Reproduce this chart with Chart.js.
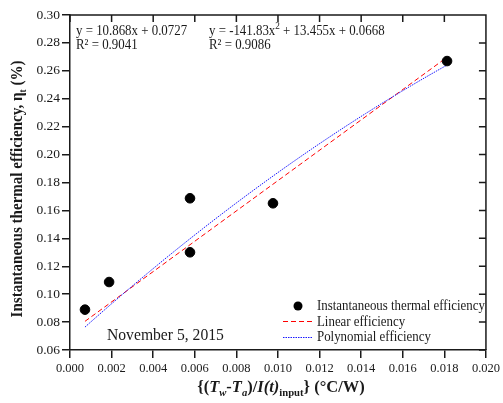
<!DOCTYPE html>
<html>
<head>
<meta charset="utf-8">
<title>Instantaneous thermal efficiency</title>
<script src="https://cdn.jsdelivr.net/npm/chart.js@4/dist/chart.umd.min.js"></script>
<style>
    html, body { margin: 0; padding: 0; background: #fff; }
    #chart { display: block; }
</style>
</head>
<body>
<canvas id="chart" width="503" height="403"></canvas>
<script>
// Measured points: (Tw - Ta)/I(t) vs efficiency
const xValues = [0.00072, 0.00188, 0.00577, 0.00577, 0.00976, 0.01813];
const yValues = [0.0889, 0.1087, 0.1300, 0.1687, 0.1651, 0.2670];

// Trendline coefficients (highest power first)
const linearCoef = [10.868, 0.0727];
const polyCoef = [-141.83, 13.455, 0.0668];
const linearR2 = "0.9041";
const polyR2 = "0.9086";

const xRange = [0, 0.02, 0.002];
const yRange = [0.06, 0.30, 0.02];

const dateLabel = "November 5, 2015";
const seriesNames = ["Instantaneous thermal efficiency", "Linear efficiency", "Polynomial efficiency"];

const SERIF = "'Liberation Serif', 'Times New Roman', serif";
const INK = "#1a1a1a";

function evalPoly(coef, x) {
    return coef.reduce((acc, c) => acc * x + c, 0);
}

const xFirst = Math.min(...xValues);
const xLast = Math.max(...xValues);

const points = xValues.map((x, i) => ({ x: x, y: yValues[i] }));
const linearLine = [xFirst, xLast].map(x => ({ x: x, y: evalPoly(linearCoef, x) }));
const polyLine = [];
for (let i = 0; i <= 40; i++) {
    const x = xFirst + (xLast - xFirst) * i / 40;
    polyLine.push({ x: x, y: evalPoly(polyCoef, x) });
}

// draw a run of text pieces with different fonts / baseline shifts
function drawRich(ctx, parts, x, y, align) {
    let total = 0;
    parts.forEach(p => { ctx.font = p.font; total += ctx.measureText(p.t).width; });
    let cx = align === "center" ? x - total / 2 : x;
    ctx.textAlign = "left";
    parts.forEach(p => {
        ctx.font = p.font;
        ctx.fillText(p.t, cx, y + (p.dy || 0));
        cx += ctx.measureText(p.t).width;
    });
}

// text squeezed horizontally a bit, like the original typesetting
function drawSqueezed(ctx, parts, x, y, align, sx) {
    ctx.save();
    ctx.translate(x, y);
    ctx.scale(sx, 1);
    drawRich(ctx, parts, 0, 0, align);
    ctx.restore();
}

const decorations = {
    id: "decorations",
    afterDraw(chart) {
        const { ctx, chartArea: a, scales: { x, y } } = chart;
        ctx.save();
        ctx.strokeStyle = INK;
        ctx.fillStyle = INK;
        ctx.lineWidth = 1.5;

        // top and right frame with inward ticks
        ctx.beginPath();
        ctx.moveTo(a.left, a.top);
        ctx.lineTo(a.right, a.top);
        ctx.lineTo(a.right, a.bottom);
        x.ticks.forEach(t => {
            const px = x.getPixelForValue(t.value);
            ctx.moveTo(px, a.top);
            ctx.lineTo(px, a.top + 7);
        });
        y.ticks.forEach(t => {
            const py = y.getPixelForValue(t.value);
            ctx.moveTo(a.right, py);
            ctx.lineTo(a.right - 7, py);
        });
        ctx.stroke();

        ctx.textBaseline = "alphabetic";

        // regression equations
        const f14 = "14px " + SERIF;
        const f10 = "10px " + SERIF;
        drawSqueezed(ctx, [{ t: "y = " + linearCoef[0] + "x + " + linearCoef[1], font: f14 }], a.left + 6, a.top + 20, "left", 0.92);
        drawSqueezed(ctx, [{ t: "R² = " + linearR2, font: f14 }], a.left + 6, a.top + 34, "left", 0.92);
        drawSqueezed(ctx, [
            { t: "y = " + polyCoef[0] + "x", font: f14 },
            { t: "2", font: f10, dy: -6 },
            { t: " + " + polyCoef[1] + "x + " + polyCoef[2], font: f14 }
        ], 209, a.top + 20, "left", 0.92);
        drawSqueezed(ctx, [{ t: "R² = " + polyR2, font: f14 }], 209, a.top + 34, "left", 0.92);

        // date label
        drawSqueezed(ctx, [{ t: dateLabel, font: "17px " + SERIF }], 107, 340, "left", 0.92);

        // legend
        const lx = 298;
        ctx.beginPath();
        ctx.arc(lx, 306, 4.5, 0, Math.PI * 2);
        ctx.fillStyle = "#000";
        ctx.fill();
        ctx.lineWidth = 1;
        ctx.strokeStyle = "#ff0000";
        ctx.setLineDash([5, 3]);
        ctx.beginPath();
        ctx.moveTo(283, 321.5);
        ctx.lineTo(313, 321.5);
        ctx.stroke();
        ctx.strokeStyle = "#1a1aff";
        ctx.setLineDash([1.5, 1]);
        ctx.beginPath();
        ctx.moveTo(283, 337.5);
        ctx.lineTo(313, 337.5);
        ctx.stroke();
        ctx.setLineDash([]);
        ctx.fillStyle = INK;
        const fl = "14px " + SERIF;
        drawSqueezed(ctx, [{ t: seriesNames[0], font: fl }], 317, 310, "left", 0.92);
        drawSqueezed(ctx, [{ t: seriesNames[1], font: fl }], 317, 326, "left", 0.92);
        drawSqueezed(ctx, [{ t: seriesNames[2], font: fl }], 317, 341, "left", 0.92);

        // x axis title
        const b = "bold 17px " + SERIF;
        const bi = "italic bold 17px " + SERIF;
        const bs = "bold 11px " + SERIF;
        const bis = "italic bold 11px " + SERIF;
        drawSqueezed(ctx, [
            { t: "{(", font: b },
            { t: "T", font: bi },
            { t: "w", font: bis, dy: 4 },
            { t: "-", font: b },
            { t: "T", font: bi },
            { t: "a", font: bis, dy: 4 },
            { t: ")/", font: b },
            { t: "I(t)", font: bi },
            { t: "input", font: bs, dy: 4 },
            { t: "} (°C/W)", font: b }
        ], (a.left + a.right) / 2 + 3, 392, "center", 0.97);

        // y axis title
        const yb = "bold 16px " + SERIF;
        const ybs = "bold 10px " + SERIF;
        ctx.save();
        ctx.translate(22, 189);
        ctx.rotate(-Math.PI / 2);
        drawSqueezed(ctx, [
            { t: "Instantaneous thermal efficiency, η", font: yb },
            { t: "t", font: ybs, dy: 4 },
            { t: " (%)", font: yb }
        ], 0, 0, "center", 0.94);
        ctx.restore();

        ctx.restore();
    }
};

const axisCommon = {
    type: "linear",
    grid: { drawOnChartArea: false, drawTicks: true, tickLength: 8, color: INK, lineWidth: 1.5 },
    border: { color: INK, width: 1.5 }
};

new Chart(document.getElementById("chart").getContext("2d"), {
    type: "scatter",
    data: {
        datasets: [
            {
                label: seriesNames[0],
                data: points,
                backgroundColor: "#000",
                borderColor: "#000",
                pointRadius: 4.8,
                order: 0
            },
            {
                label: seriesNames[1],
                type: "line",
                data: linearLine,
                borderColor: "#ff0000",
                borderWidth: 1,
                borderDash: [5, 3],
                pointRadius: 0,
                fill: false,
                order: 2
            },
            {
                label: seriesNames[2],
                type: "line",
                data: polyLine,
                borderColor: "#1a1aff",
                borderWidth: 1,
                borderDash: [1.5, 1],
                pointRadius: 0,
                fill: false,
                tension: 0,
                order: 1
            }
        ]
    },
    options: {
        responsive: false,
        animation: false,
        layout: { padding: { top: 15, right: 15, left: 0, bottom: 0 } },
        plugins: { legend: { display: false }, tooltip: { enabled: false } },
        scales: {
            x: {
                ...axisCommon,
                position: "bottom",
                min: xRange[0],
                max: xRange[1],
                ticks: {
                    stepSize: xRange[2],
                    color: INK,
                    padding: 3,
                    font: { family: SERIF, size: 12.5 },
                    callback: v => v.toFixed(3)
                },
                afterFit: s => { s.height = 53; }
            },
            y: {
                ...axisCommon,
                position: "left",
                min: yRange[0],
                max: yRange[1],
                ticks: {
                    stepSize: yRange[2],
                    color: INK,
                    padding: 2,
                    font: { family: SERIF, size: 13.5 },
                    callback: v => v.toFixed(2)
                },
                afterFit: s => { s.width = 70; }
            }
        }
    },
    plugins: [decorations]
});
</script>
</body>
</html>
